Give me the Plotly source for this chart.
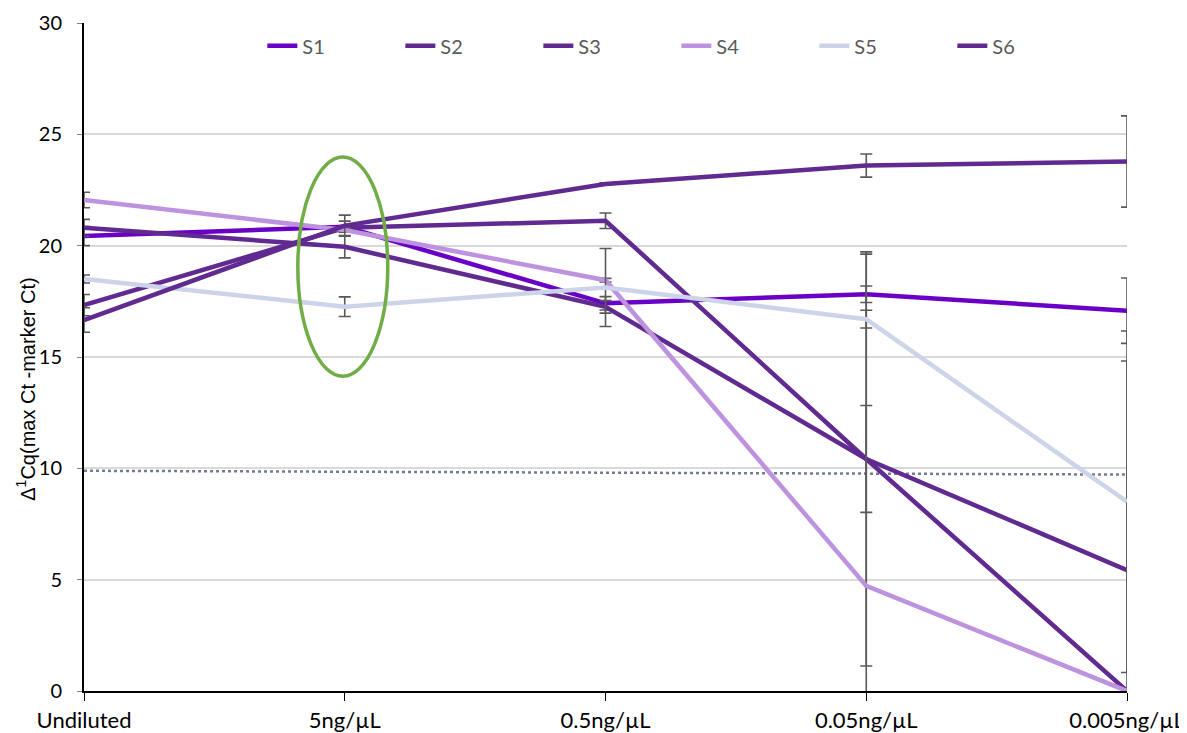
import plotly.graph_objects as go

categories = ["Undiluted", "5ng/µL", "0.5ng/µL", "0.05ng/µL", "0.005ng/µL"]

S1 = [20.43, 20.85, 17.41, 17.82, 17.08]
S2 = [20.80, 19.95, 17.25, 10.42, 5.43]
S3 = [17.33, 20.80, 21.12, 10.42, 0.0]
S4 = [22.05, 20.70, 18.45, 4.72, 0.0]
S5 = [18.50, 17.26, 18.12, 16.70, 8.50]
S6 = [16.66, 20.90, 22.77, 23.60, 23.78]

S1_err = [0.43, 0.25, 0.30, 0.37, 1.47]
S2_err = [0.38, 0.50, 0.28, 2.40, 9.39]
S3_err = [0.48, 0.10, 0.35, 9.30, 0.0]
S4_err = [0.35, 0.10, 0.08, 14.90, 0.0]
S5_err = [0.18, 0.44, 1.75, 0.40, 7.67]
S6_err = [0.55, 0.47, 0.05, 0.52, 2.05]

threshold = [9.89, 9.85, 9.81, 9.77, 9.72]

series = [
    ("S1", S1, S1_err, "#6A00C6"),
    ("S2", S2, S2_err, "#602A90"),
    ("S3", S3, S3_err, "#602A90"),
    ("S4", S4, S4_err, "#BD92DF"),
    ("S5", S5, S5_err, "#CDD4EA"),
    ("S6", S6, S6_err, "#602A90"),
]

FONT = "Lato, Open Sans, sans-serif"
TITLE_FONT = "Liberation Sans, Arial, sans-serif"

fig = go.Figure()

fig.add_trace(go.Scatter(
    x=categories, y=threshold, mode="lines", showlegend=False,
    line=dict(color="#6F7E94", width=2.5, dash="dot"), hoverinfo="skip"))

for name, vals, err, color in series:
    fig.add_trace(go.Scatter(
        x=categories, y=vals, name=name, mode="lines",
        line=dict(color=color, width=4.5),
        error_y=dict(type="data", array=err, visible=True,
                     color="#595959", thickness=1.6, width=6),
    ))

fig.add_shape(type="circle", xref="x", yref="y",
              x0=0.82, x1=1.165, y0=14.14, y1=23.98,
              line=dict(color="#70AD47", width=3.5))

fig.add_annotation(text="Δ<sup>1</sup>Cq(max Ct -marker Ct)", xref="paper", yref="paper",
                   x=-0.0556, y=0.451, textangle=-90, showarrow=False,
                   xanchor="center", yanchor="middle",
                   font=dict(size=20, color="black", family=TITLE_FONT))

fig.update_layout(
    width=1179, height=725,
    margin=dict(l=76, r=60, t=15, b=42),
    paper_bgcolor="white", plot_bgcolor="white",
    font=dict(family=FONT, size=20, color="black"),
    legend=dict(orientation="h", x=0.171, y=0.966, xanchor="left", yanchor="middle",
                bgcolor="rgba(0,0,0,0)", font=dict(size=20, color="#595959"),
                entrywidth=93, entrywidthmode="pixels"),
    xaxis=dict(type="category", range=[0, 4], showgrid=False, automargin=False,
               showline=True, linecolor="black", linewidth=2,
               ticks="outside", ticklen=8, tickcolor="black", tickwidth=1,
               tickfont=dict(size=22), ticklabelstandoff=1),
    yaxis=dict(range=[0, 30], dtick=5, showgrid=True, gridcolor="#D9D9D9", gridwidth=1.5,
               zeroline=False, showline=True, linecolor="black", linewidth=2, automargin=False,
               ticks="outside", ticklen=5, tickcolor="#7F7F7F",
               tickfont=dict(size=20), ticklabelstandoff=11),
)

fig.write_html("out.html")
